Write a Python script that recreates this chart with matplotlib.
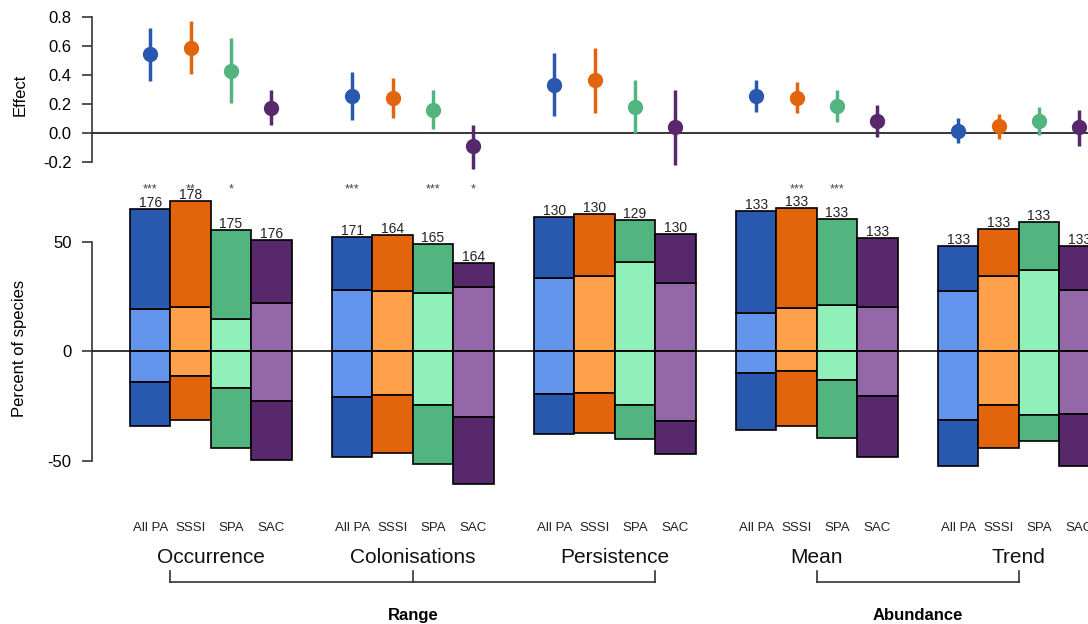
import numpy as np
import matplotlib
matplotlib.use("Agg")
import matplotlib.pyplot as plt

plt.rcParams['font.family'] = ['Liberation Sans', 'DejaVu Sans']

# --------------------------
# data
groups = ['Occurrence', 'Colonisations', 'Persistence', 'Mean', 'Trend']
designations = ['All PA', 'SSSI', 'SPA', 'SAC']

effect = [[0.543, 0.586, 0.428, 0.172],
          [0.255, 0.241, 0.157, -0.092],
          [0.331, 0.361, 0.179, 0.037],
          [0.255, 0.239, 0.186, 0.081],
          [0.012, 0.044, 0.081, 0.037]]
effect_hi = [[0.724, 0.770, 0.655, 0.294],
             [0.421, 0.377, 0.294, 0.051],
             [0.552, 0.582, 0.361, 0.294],
             [0.361, 0.347, 0.294, 0.189],
             [0.099, 0.129, 0.175, 0.159]]
effect_lo = [[0.359, 0.405, 0.207, 0.053],
             [0.088, 0.099, 0.023, -0.248],
             [0.115, 0.138, -0.004, -0.225],
             [0.145, 0.138, 0.076, -0.028],
             [-0.073, -0.041, -0.014, -0.090]]

# percent of species: positive total / light part, negative light part / total
pos_total = [[65.0, 68.5, 55.4, 51.0],
             [52.1, 53.0, 49.0, 40.5],
             [61.5, 62.7, 60.0, 53.6],
             [64.1, 65.6, 60.5, 51.6],
             [48.0, 56.0, 59.1, 48.0]]
pos_light = [[19.3, 20.4, 14.9, 22.0],
             [28.0, 27.6, 26.5, 29.5],
             [33.4, 34.4, 41.0, 31.4],
             [17.7, 20.0, 21.3, 20.1],
             [27.6, 34.4, 37.2, 28.0]]
neg_light = [[-14.1, -11.2, -16.6, -22.5],
             [-20.9, -20.1, -24.5, -29.9],
             [-19.3, -19.1, -24.4, -31.7],
             [-9.8, -8.9, -13.0, -20.3],
             [-31.2, -24.4, -29.1, -28.8]]
neg_total = [[-34.2, -31.3, -44.2, -49.6],
             [-48.0, -46.6, -51.5, -60.4],
             [-37.9, -37.4, -39.9, -46.7],
             [-35.8, -34.2, -39.4, -48.3],
             [-52.4, -44.2, -41.0, -52.4]]

n_species = [[176, 178, 175, 176],
             [171, 164, 165, 164],
             [130, 130, 129, 130],
             [133, 133, 133, 133],
             [133, 133, 133, 133]]
stars = [['***', '**', '*', ''],
         ['***', '', '***', '*'],
         ['', '', '', ''],
         ['', '***', '***', ''],
         ['', '', '', '']]

dark = ['#2959ae', '#e2650d', '#52b47f', '#57286b']
light = ['#6495ed', '#ffa14a', '#90f0b9', '#9467a8']

# --------------------------
# layout in pixels
W, H = 1088, 624
x0_px, bar_px = 150.2, 40.4      # centre of first bar, bar width
left_px = 92


def xlim_px():
    return ((left_px - x0_px) / bar_px, (W - x0_px) / bar_px)


fig = plt.figure(figsize=(W / 100, H / 100), dpi=100)

# top panel: effect
top, bot = 5, 175
zero_px, unit_px = 132.7, 145.0
ax1 = fig.add_axes([left_px / W, 1 - bot / H, 1 - left_px / W, (bot - top) / H])
ax1.set_xlim(*xlim_px())
ax1.set_ylim((zero_px - bot) / unit_px, (zero_px - top) / unit_px)

# bottom panel: percent of species
top2, bot2 = 178, 500
zero2_px, unit2_px = 351.4, 2.19
ax2 = fig.add_axes([left_px / W, 1 - bot2 / H, 1 - left_px / W, (bot2 - top2) / H])
ax2.set_xlim(*xlim_px())
ax2.set_ylim((zero2_px - bot2) / unit2_px, (zero2_px - top2) / unit2_px)

for ax in (ax1, ax2):
    for s in ('top', 'right', 'bottom'):
        ax.spines[s].set_visible(False)
    ax.spines['left'].set_color('#444444')
    ax.spines['left'].set_linewidth(1.3)
    ax.set_xticks([])
    ax.tick_params(axis='y', length=7.2, width=1.3, color='#444444', pad=7.5, labelsize=12)
    ax.axhline(0, color='black', lw=1.1, zorder=4)
    ax.patch.set_visible(False)

ax1.spines['left'].set_bounds(-0.2, 0.8)
ax1.set_yticks([-0.2, 0.0, 0.2, 0.4, 0.6, 0.8])
ax1.set_yticklabels(['-0.2', '0.0', '0.2', '0.4', '0.6', '0.8'])
ax2.spines['left'].set_bounds(-50, 50)
ax2.set_yticks([-50, 0, 50])
ax2.set_yticklabels(['-50', '0', '50'])

# --------------------------
# draw the points and bars
for g in range(len(groups)):
    for i in range(len(designations)):
        x = 5 * g + i
        e = effect[g][i]
        ax1.errorbar(x, e, yerr=[[e - effect_lo[g][i]], [effect_hi[g][i] - e]],
                     fmt='o', color=dark[i], ms=10, elinewidth=2.5, capsize=0, zorder=5)

        kw = dict(width=1, edgecolor='black', linewidth=1.2, zorder=2)
        ax2.bar(x, pos_light[g][i], bottom=0, color=light[i], **kw)
        ax2.bar(x, pos_total[g][i] - pos_light[g][i], bottom=pos_light[g][i], color=dark[i], **kw)
        ax2.bar(x, neg_light[g][i], bottom=0, color=light[i], **kw)
        ax2.bar(x, neg_total[g][i] - neg_light[g][i], bottom=neg_light[g][i], color=dark[i], **kw)

        ax2.text(x, pos_total[g][i] + 1.0, str(n_species[g][i]), ha='center', va='baseline',
                 fontsize=10, color='#222222', clip_on=False)
        if stars[g][i]:
            ax2.text(x, 72.8, stars[g][i], ha='center', va='baseline', fontsize=9,
                     color='#444444', clip_on=False)
        ax2.text(x, -80.6, designations[i], ha='center', va='center', fontsize=9.5,
                 color='#222222', clip_on=False)

    ax2.text(5 * g + 1.5, -94.3, groups[g], ha='center', va='center', fontsize=15,
             color='#111111', clip_on=False)

# --------------------------
# brackets under the group names
br_y, br_tick = -105.1, -100.3
ax2.plot([0.5, 12.5], [br_y, br_y], color='#333333', lw=1.2, clip_on=False)
for xt in (0.5, 6.5, 12.5):
    ax2.plot([xt, xt], [br_y, br_tick], color='#333333', lw=1.2, clip_on=False)
ax2.plot([16.5, 21.5], [br_y, br_y], color='#333333', lw=1.2, clip_on=False)
for xt in (16.5, 21.5):
    ax2.plot([xt, xt], [br_y, br_tick], color='#333333', lw=1.2, clip_on=False)
ax2.text(6.5, -120.4, 'Range', ha='center', va='center', fontsize=12,
         fontweight='bold', clip_on=False)
ax2.text(19.0, -120.4, 'Abundance', ha='center', va='center', fontsize=12,
         fontweight='bold', clip_on=False)

# axis titles
fig.text(20 / W, 1 - 95 / H, 'Effect', rotation=90, ha='center', va='center', fontsize=12)
fig.text(20 / W, 1 - 348 / H, 'Percent of species', rotation=90, ha='center', va='center',
         fontsize=12)

fig.savefig('out.png', dpi=100)
